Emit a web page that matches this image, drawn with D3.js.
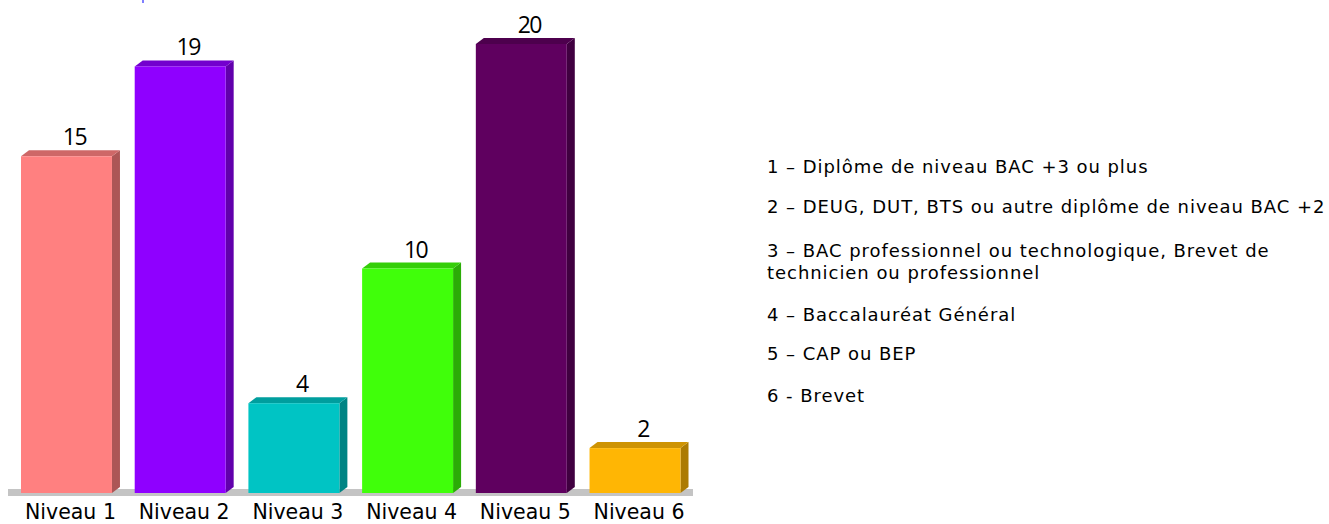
<!DOCTYPE html>
<html>
<head>
<meta charset="utf-8">
<script src="https://cdn.jsdelivr.net/npm/d3@7"></script>
<style>
  body { margin: 0; background: #fff; }
  svg { display: block; }
  text { font-family: "DejaVu Sans", sans-serif; fill: #000; }
</style>
</head>
<body>
<div id="chart"></div>
<script>
const categories = ["Niveau 1", "Niveau 2", "Niveau 3", "Niveau 4", "Niveau 5", "Niveau 6"];
const values = [15, 19, 4, 10, 20, 2];
const barColors = ["#ff8080", "#8f00ff", "#00c4c4", "#40ff0a", "#5f005f", "#ffb604"];
const legendLines = [
  "1 – Diplôme de niveau BAC +3 ou plus",
  "2 – DEUG, DUT, BTS ou autre diplôme de niveau BAC +2",
  "3 – BAC professionnel ou technologique, Brevet de",
  "technicien ou professionnel",
  "4 – Baccalauréat Général",
  "5 – CAP ou BEP",
  "6 - Brevet"
];
const legendY = [173, 213, 257, 279, 321, 360, 402];

const width = 1329;
const height = 524;
const depthX = 8;
const depthY = 6;
const baseY = 493;

const svg = d3.select("#chart").append("svg")
  .attr("width", width)
  .attr("height", height);

const x = d3.scaleBand().domain(categories).range([21, 680.5]).paddingInner(0.2).paddingOuter(0);
const y = d3.scaleLinear().domain([0, 20]).range([baseY, 44]);

// floor under the bars
svg.append("rect")
  .attr("x", 8).attr("y", 489)
  .attr("width", 685).attr("height", 7)
  .attr("fill", "#c4c4c4");

// bit of cut off text at the very top of the picture
svg.append("rect")
  .attr("x", 142).attr("y", 0)
  .attr("width", 2).attr("height", 3)
  .attr("fill", "#8080ff");

const bars = svg.selectAll("g.bar")
  .data(categories)
  .enter().append("g")
  .attr("class", "bar");

// right side
bars.append("path")
  .attr("d", (d, i) => {
    const r = x(d) + x.bandwidth();
    const t = y(values[i]);
    return `M${r},${t}l${depthX},${-depthY}V${baseY - depthY}l${-depthX},${depthY}Z`;
  })
  .attr("fill", (d, i) => d3.rgb(barColors[i]).darker(1.1));

// top side
bars.append("path")
  .attr("d", (d, i) => {
    const l = x(d);
    const t = y(values[i]);
    return `M${l},${t}l${depthX},${-depthY}h${x.bandwidth()}l${-depthX},${depthY}Z`;
  })
  .attr("fill", (d, i) => d3.rgb(barColors[i]).darker(0.6));

// front
bars.append("rect")
  .attr("x", d => x(d))
  .attr("y", (d, i) => y(values[i]))
  .attr("width", x.bandwidth())
  .attr("height", (d, i) => baseY - y(values[i]))
  .attr("fill", (d, i) => barColors[i]);

// value above each bar
bars.append("text")
  .attr("x", d => x(d) + x.bandwidth() / 2 + depthX)
  .attr("y", (d, i) => y(values[i]) - depthY - 5)
  .attr("text-anchor", "middle")
  .style("font-family", "'Open Sans', sans-serif")
  .attr("font-size", 23)
  .attr("letter-spacing", -1.5)
  .text((d, i) => values[i]);

// category labels
bars.append("text")
  .attr("x", d => x(d) + x.bandwidth() / 2 + depthX / 2)
  .attr("y", 519)
  .attr("text-anchor", "middle")
  .attr("font-size", 20.5)
  .text(d => d);

svg.selectAll("text.legend")
  .data(legendLines)
  .enter().append("text")
  .attr("class", "legend")
  .attr("x", 767)
  .attr("y", (d, i) => legendY[i])
  .attr("font-size", 18)
  .attr("letter-spacing", 0.95)
  .text(d => d);
</script>
</body>
</html>
